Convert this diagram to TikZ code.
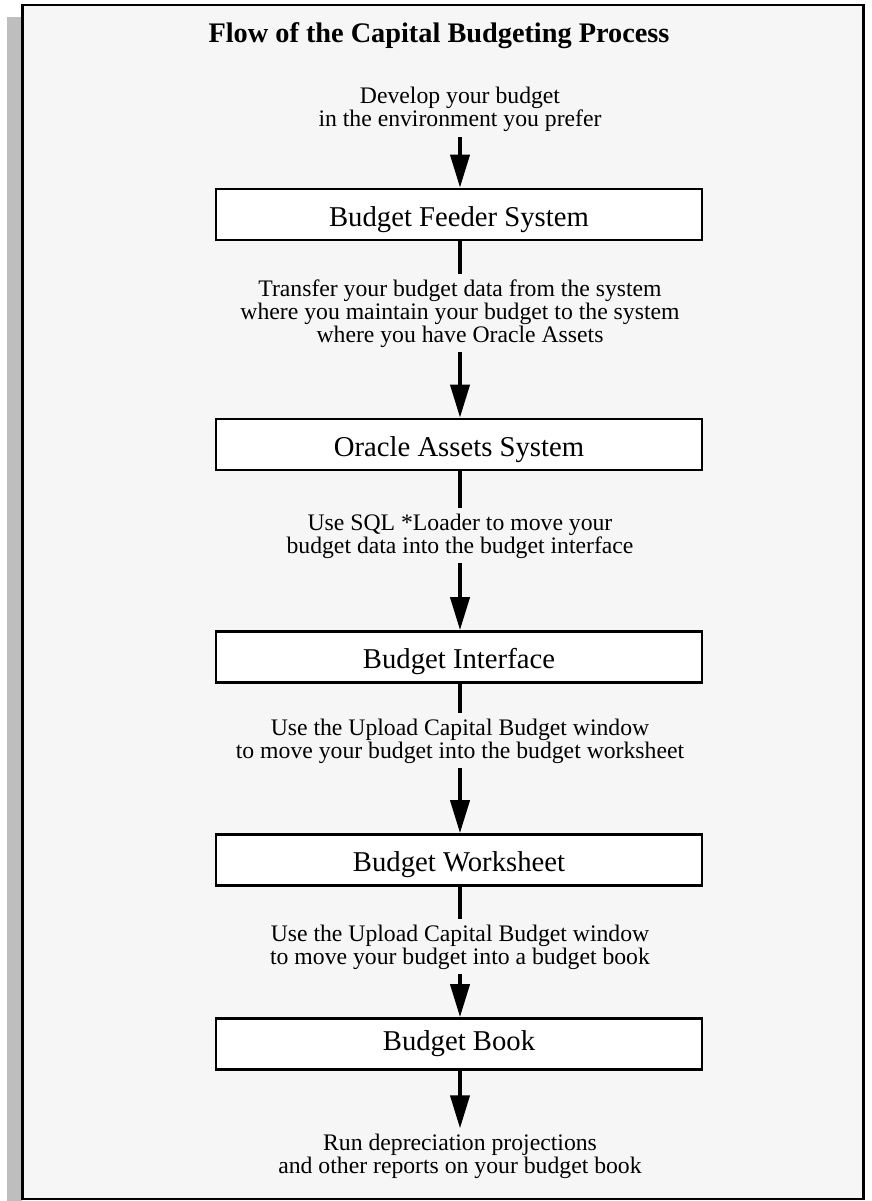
\documentclass[tikz,border=0pt]{standalone}
\usepackage{fontspec}
\setmainfont{Liberation Serif}
\usetikzlibrary{arrows.meta}
\definecolor{panelgray}{HTML}{F6F6F6}
\definecolor{bargray}{HTML}{BEBEBE}
\tikzset{
  stepbox/.style={draw,line width=2.7pt,fill=white,minimum width=486pt,minimum height=51pt,
    text height=26pt,text depth=3pt,font=\fontsize{28.7}{30}\selectfont},
  note/.style={align=center,anchor=base,inner sep=5pt,font=\fontsize{23.7}{23}\selectfont},
  stem/.style={line width=4pt},
  flow/.style={stem,-{Triangle[length=33pt,width=19pt]}}
}
\begin{document}
\begin{tikzpicture}[x=1pt,y=-1pt]
	\useasboundingbox (0,0) rectangle (871,1201);
	\fill[bargray] (7,17) rectangle (22,1201);
	\draw[line width=2.7pt,fill=panelgray] (22.5,5) rectangle (863.5,1199);
	\node[anchor=base,font=\bfseries\fontsize{28.3}{30}\selectfont] (title) at (439,43) {Flow of the Capital Budgeting Process};

	% base anchor sits on the last line
	\node[note] (t1) at (460,127) {Develop your budget\\in the environment you prefer};
	\node[stepbox] (feeder) at (459,214.5) {Budget Feeder System};
	\node[note] (t2) at (460,342) {Transfer your budget data from the system\\where you maintain your budget to the system\\where you have Oracle Assets};
	\node[stepbox] (oracle) at (459,444.5) {Oracle Assets System};
	\node[note] (t3) at (460,553) {Use SQL *Loader to move your\\budget data into the budget interface};
	\node[stepbox] (iface) at (459,657) {Budget Interface};
	\node[note] (t4) at (460,758) {Use the Upload Capital Budget window\\to move your budget into the budget worksheet};
	\node[stepbox] (sheet) at (459,860) {Budget Worksheet};
	\node[note] (t5) at (460,964) {Use the Upload Capital Budget window\\to move your budget into a budget book};
	\node[stepbox,text height=15pt] (book) at (459,1044) {Budget Book};
	\node[note] (t6) at (460,1173) {Run depreciation projections\\and other reports on your budget book};

	\draw[flow] (t1.south) -- (t1.south |- feeder.north);
	\draw[stem] (t2.north |- feeder.south) -- (t2.north);
	\draw[flow] (t2.south) -- (t2.south |- oracle.north);
	\draw[stem] (t3.north |- oracle.south) -- (t3.north);
	\draw[flow] (t3.south) -- (t3.south |- iface.north);
	\draw[stem] (t4.north |- iface.south) -- (t4.north);
	\draw[flow] (t4.south) -- (t4.south |- sheet.north);
	\draw[stem] (t5.north |- sheet.south) -- (t5.north);
	\draw[flow] (t5.south) -- (t5.south |- book.north);
	\draw[flow] (t6.north |- book.south) -- (t6.north);
\end{tikzpicture}
\end{document}
